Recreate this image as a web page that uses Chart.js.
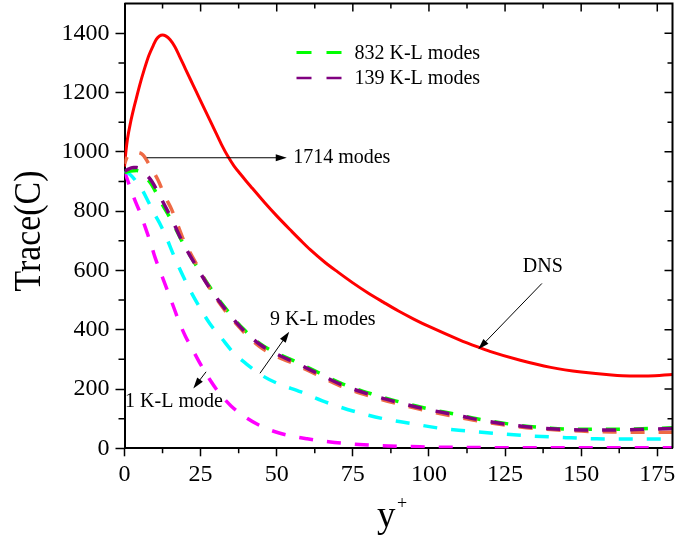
<!DOCTYPE html>
<html><head><meta charset="utf-8">
<script src="https://cdn.jsdelivr.net/npm/chart.js@4/dist/chart.umd.min.js"></script>
<style>html,body{margin:0;padding:0;background:#fff}</style>
</head><body>
<canvas id="c" width="676" height="539"></canvas>
<script>
// ---- data ----
const dnsX = [0,0.5,1,2,3,4,5,6.5,8,9.5,10.5,11.5,12.5,13.5,15,16.5,18,20,22.5,25,28,30,32,34,36,38,40,42,46,50,55,57.7,61,66,70,75,80,85,90,95,100,110,116,120,130,140,150,160,166,172,180];
const dnsY = [950,1005,1045,1100,1145,1185,1225,1278,1325,1360,1380,1391,1394,1391,1378,1355,1324,1280,1226,1172,1108,1065,1022,984,952,926,901,877,829,784,731,703,670,626,595,558,524,493,463,436,411,366,342,327,297,273,257,247,244,244,249];

const m1714X = [0,1,2,4,6,8.4,11,13.3,15.5,17.7,19.3,23.7,27,32.5,39,44.5,50,55.5,64,71,81,89,99,109,114,120,130,140,150,160,170,180];
const m1714Y = [960,985,993,998,990,952,905,850,805,748,705,620,556,472,394,342,310,286,244,210,175,152,127,106,96,86,72,63,58,55,54,54];

const kl832X = [0,2,4,6,7,9,12,15.6,19.3,23.7,27,32.5,39,44.5,50,55.5,64,71,81,89,99,109,114,120,130,140,150,160,170,180];
const kl832Y = [930,935,937,928,915,888,830,765,690,614,560,481,403,353,321,296,254,220,184,160,135,114,103,92,77,68,64,64,66,69];

const kl139X = [0,1,2,3,4,5,6,7,9,12,15.6,19.3,23.7,27,32.5,39,44.5,50,55.5,64,71,81,89,99,109,114,120,130,140,150,160,170,180];
const kl139Y = [935,940,945,947,947,944,935,925,900,843,771,691,612,556,477,399,350,318,292,250,216,180,157,132,112,101,90,75,66,62,62,64,67];

const kl9X = [0,2,4,6,8,10,12,14,16,18,21.5,25,28,32,36,40,45.6,50,58,65,70,75,84.5,94,104,112,122,133,145,155,165,180];
const kl9Y = [935,922,898,868,828,788,750,705,655,608,534,470,421,370,320,285,243,220,190,160,142,126,101,84,67,59,50,42,36,32,31,31];

const kl1X = [0,1,2,3.6,5.2,7,8.5,10,12,14,16,18,20,22,25,28,31,35,40,45,50,55,60,67,77,87,97,110,130,150,180];
const kl1Y = [935,905,875,832,793,740,695,645,590,535,480,425,378,340,283,232,188,143,103,74,54,41,32,22,13,8,5,3,2,2,2];

const xRange = [0, 180];
const yRange = [0, 1500];
const xStep = 25, yStep = 200;
const legendLabels = ['832 K-L modes', '139 K-L modes'];
// annotation anchors in data units
const notes = [
  {text:'1714 modes', tx:55.4, ty:980, align:'left', a:[7.3,980,53.3,980]},
  {text:'DNS', tx:137.4, ty:612, align:'center', a:[137.1,556,116.2,334]},
  {text:'9 K-L modes', tx:47.8, ty:433, align:'left', a:[44.5,253,54.1,393]},
  {text:'1 K-L mode', tx:0.2, ty:157, align:'left', a:[26.8,258,22.6,202]}
];

const FONT = '"Liberation Serif","Times New Roman",serif';
const pts = (xs, ys) => xs.map((x, i) => ({x: x, y: ys[i]}));
const base = {pointRadius:0, fill:false, cubicInterpolationMode:'monotone', borderCapStyle:'butt', borderWidth:3.5};
const dash = [14, 14];

const datasets = [
  Object.assign({}, base, {label:'DNS', data:pts(dnsX,dnsY), borderColor:'#FF0000', borderWidth:3, order:6}),
  Object.assign({}, base, {label:'1 K-L mode', data:pts(kl1X,kl1Y), borderColor:'#FF00FF', borderDash:dash, order:5}),
  Object.assign({}, base, {label:'9 K-L modes', data:pts(kl9X,kl9Y), borderColor:'#00FFFF', borderDash:dash, order:4}),
  Object.assign({}, base, {label:'832 K-L modes', data:pts(kl832X,kl832Y), borderColor:'#00FF00', borderDash:dash, order:3}),
  Object.assign({}, base, {label:'1714 modes', data:pts(m1714X,m1714Y), borderColor:'#EE6A45', borderDash:dash, borderDashOffset:7, order:2}),
  Object.assign({}, base, {label:'139 K-L modes', data:pts(kl139X,kl139Y), borderColor:'#800080', borderDash:dash, order:1})
];

function arrow(ctx, x0, y0, x1, y1) {
  const ang = Math.atan2(y1 - y0, x1 - x0);
  const L = 11, W = 3.5;
  ctx.beginPath();
  ctx.moveTo(x0, y0);
  ctx.lineTo(x1 - L * 0.8 * Math.cos(ang), y1 - L * 0.8 * Math.sin(ang));
  ctx.stroke();
  ctx.beginPath();
  ctx.moveTo(x1, y1);
  ctx.lineTo(x1 - L*Math.cos(ang) + W*Math.sin(ang), y1 - L*Math.sin(ang) - W*Math.cos(ang));
  ctx.lineTo(x1 - L*Math.cos(ang) - W*Math.sin(ang), y1 - L*Math.sin(ang) + W*Math.cos(ang));
  ctx.closePath();
  ctx.fill();
}

const extras = {
  id: 'extras',
  afterDraw(chart) {
    const ctx = chart.ctx, a = chart.chartArea;
    const xs = chart.scales.x, ys = chart.scales.y;
    ctx.save();
    ctx.strokeStyle = '#000'; ctx.fillStyle = '#000';
    // frame top/right
    ctx.lineWidth = 2;
    ctx.beginPath();
    ctx.moveTo(a.left, a.top); ctx.lineTo(a.right, a.top); ctx.lineTo(a.right, a.bottom);
    ctx.stroke();
    // ticks
    ctx.lineWidth = 1.5;
    ctx.beginPath();
    for (let v = xRange[0]; v <= xRange[1]; v += xStep / 2) {
      const p = xs.getPixelForValue(v);
      const major = (v % xStep) === 0;
      const len = major ? 8 : 5;
      if (v > xRange[0] && v < xRange[1]) { ctx.moveTo(p, a.top); ctx.lineTo(p, a.top + len); }
      if (!major) { ctx.moveTo(p, a.bottom); ctx.lineTo(p, a.bottom + 5); }
    }
    for (let v = yRange[0]; v <= yRange[1]; v += yStep / 2) {
      const p = ys.getPixelForValue(v);
      const major = (v % yStep) === 0;
      const len = major ? 8 : 5;
      if (v > yRange[0] && v < yRange[1]) { ctx.moveTo(a.right, p); ctx.lineTo(a.right - len, p); }
      if (!major && v < yRange[1]) { ctx.moveTo(a.left, p); ctx.lineTo(a.left - 6, p); }
    }
    ctx.stroke();

    // axis titles
    ctx.textAlign = 'center'; ctx.textBaseline = 'alphabetic';
    ctx.font = '38px ' + FONT;
    ctx.save();
    ctx.translate(40, 231);
    ctx.rotate(-Math.PI / 2);
    ctx.scale(0.89, 1);
    ctx.fillText('Trace(C)', 0, 0);
    ctx.restore();
    ctx.textAlign = 'left';
    ctx.font = '37px ' + FONT;
    ctx.fillText('y', 377, 527);
    ctx.font = '18px ' + FONT;
    ctx.fillText('+', 397, 509);

    // legend
    ctx.font = '20px ' + FONT;
    ctx.textBaseline = 'middle';
    legendLabels.forEach((lab, i) => {
      const ds = chart.data.datasets.find(d => d.label === lab);
      const y = a.top + 49 + i * 25.5;
      const x0 = a.left + 172;
      ctx.save();
      ctx.strokeStyle = ds.borderColor;
      ctx.lineWidth = i === 0 ? 3 : 2.5;
      ctx.setLineDash([15, 15]);
      ctx.beginPath(); ctx.moveTo(x0, y); ctx.lineTo(x0 + 45, y); ctx.stroke();
      ctx.restore();
      ctx.fillText(lab, x0 + 58, y + 1);
    });

    // annotations
    ctx.lineWidth = 1;
    notes.forEach(n => {
      ctx.textAlign = n.align;
      ctx.fillText(n.text, xs.getPixelForValue(n.tx), ys.getPixelForValue(n.ty));
      arrow(ctx, xs.getPixelForValue(n.a[0]), ys.getPixelForValue(n.a[1]),
                 xs.getPixelForValue(n.a[2]), ys.getPixelForValue(n.a[3]));
    });
    ctx.restore();
  }
};

new Chart(document.getElementById('c'), {
  type: 'line',
  data: {datasets: datasets},
  options: {
    responsive: false,
    animation: false,
    layout: {padding: {left: 60, right: 3.5, top: 3.6, bottom: 49.7}},
    plugins: {legend: {display: false}, tooltip: {enabled: false}},
    scales: {
      x: {
        type: 'linear', min: xRange[0], max: xRange[1],
        afterFit(s) { s.height = 41; s.paddingLeft = 0; s.paddingRight = 0; },
        ticks: {stepSize: xStep, includeBounds: false, maxRotation: 0, color: '#000', padding: 4,
                font: {family: FONT, size: 24}, callback: v => String(v)},
        grid: {drawOnChartArea: false, tickLength: 8, tickColor: '#000', tickWidth: 1.5},
        border: {display: true, color: '#000', width: 2}
      },
      y: {
        type: 'linear', min: yRange[0], max: yRange[1],
        afterFit(s) { s.width = 64.5; s.paddingTop = 0; s.paddingBottom = 0; },
        ticks: {stepSize: yStep, includeBounds: false, color: '#000', padding: 6,
                font: {family: FONT, size: 24}, callback: v => String(v)},
        grid: {drawOnChartArea: false, tickLength: 9, tickColor: '#000', tickWidth: 1.5},
        border: {display: true, color: '#000', width: 2}
      }
    }
  },
  plugins: [extras]
});
</script>
</body></html>
